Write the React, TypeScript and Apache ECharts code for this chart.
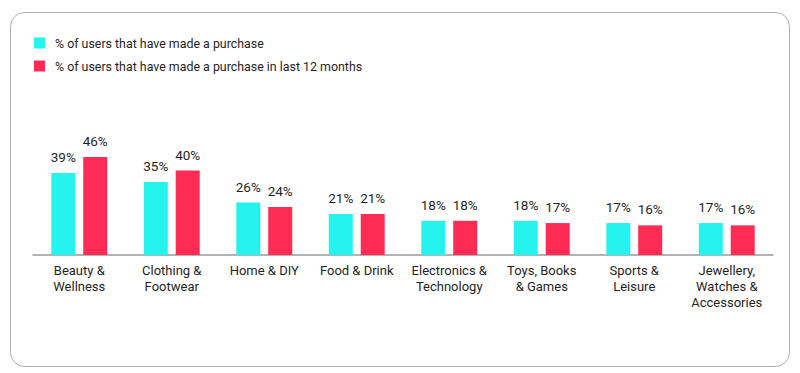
import React, { useEffect, useRef } from "react";
import * as echarts from "echarts";

const categories = [
  "Beauty &\nWellness",
  "Clothing &\nFootwear",
  "Home & DIY",
  "Food & Drink",
  "Electronics &\nTechnology",
  "Toys, Books\n& Games",
  "Sports &\nLeisure",
  "Jewellery,\nWatches &\nAccessories",
];
const seriesNames = [
  "% of users that have made a purchase",
  "% of users that have made a purchase in last 12 months",
];
const everPurchased = [39, 35, 26, 21, 18, 18, 17, 17];
const last12Months = [46, 40, 24, 21, 18, 17, 16, 16];

const FONT = "Roboto";
const TEXT = "#1f1f1f";

export default function App() {
  const ref = useRef<HTMLDivElement>(null);
  useEffect(() => {
    document.body.style.margin = "0";
    const chart = echarts.init(ref.current!, null, { renderer: "svg" });
    const label = {
      show: true,
      position: "top",
      distance: 9,
      formatter: "{c}%",
      fontFamily: FONT,
      fontSize: 13.5,
      color: TEXT,
    };
    chart.setOption({
      animation: false,
      backgroundColor: "#ffffff",
      textStyle: { fontFamily: FONT },
      graphic: [
        {
          type: "rect",
          shape: { x: 10.5, y: 12.5, width: 779, height: 354, r: 14 },
          style: { fill: "none", stroke: "#b0b0b0", lineWidth: 1 },
          silent: true,
        },
      ],
      legend: {
        orient: "vertical",
        left: 34,
        top: 37,
        padding: 0,
        itemWidth: 11,
        itemHeight: 11,
        itemGap: 11,
        icon: "rect",
        selectedMode: false,
        textStyle: { fontFamily: FONT, fontSize: 12.4, color: TEXT, padding: [0, 0, 0, 5] },
        data: seriesNames,
      },
      grid: { left: 33, right: 27, top: 125, bottom: 118, containLabel: false },
      xAxis: {
        type: "category",
        data: categories,
        axisTick: { show: false },
        axisLine: { lineStyle: { color: "#9a9a9a", width: 1.5 } },
        axisLabel: {
          interval: 0,
          margin: 7,
          fontFamily: FONT,
          fontSize: 13,
          lineHeight: 16,
          color: TEXT,
        },
      },
      yAxis: {
        type: "value",
        min: 3,
        max: 60,
        show: false,
        splitLine: { show: false },
      },
      series: [
        {
          name: seriesNames[0],
          type: "bar",
          data: everPurchased,
          barWidth: 24,
          barGap: "33%",
          itemStyle: { color: "#25F4EE" },
          label,
        },
        {
          name: seriesNames[1],
          type: "bar",
          data: last12Months,
          barWidth: 24,
          itemStyle: { color: "#FE2C55" },
          label,
        },
      ],
    });
    return () => chart.dispose();
  }, []);
  return <div ref={ref} style={{ width: 800, height: 373 }} />;
}
